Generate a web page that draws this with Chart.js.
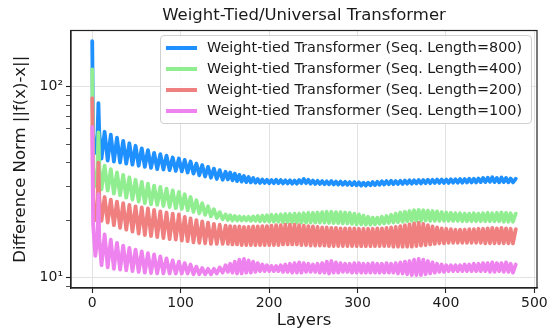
<!DOCTYPE html>
<html><head><meta charset="utf-8">
<script src="https://cdn.jsdelivr.net/npm/chart.js@4.4.1/dist/chart.umd.min.js"></script>
<style>
html,body{margin:0;padding:0;background:#fff;}
#wrap{position:relative;width:548px;height:331px;}
#legend{position:absolute;left:160px;top:35px;width:372px;height:89px;border:1px solid #d0d0d0;border-radius:4px;background:rgba(255,255,255,0.85);box-sizing:border-box;font-family:"DejaVu Sans";font-size:14.4px;color:#1a1a1a;}
.row{position:absolute;left:0;height:21px;line-height:21px;white-space:nowrap;}
.sw{position:absolute;left:5px;top:8.5px;width:31px;height:4px;}
.lbl{position:absolute;left:46px;top:0;}
</style></head><body>
<div id="wrap"><canvas id="c" width="548" height="331"></canvas><div id="legend"></div></div>
<script>
// ---- layer positions (x) of the drawn extremes ----
const layersStart = [0, 1, 3.5, 6, 7, 8, 10.5, 14, 17.5, 21, 24.5, 28, 31.5, 35, 38.5, 42, 45.5, 49, 52.5, 56, 59.5, 63, 66.5, 70, 73.5, 77, 80.5, 84, 87.5, 91, 94.5, 98];
const layersMid = [101.3, 104.6, 107.9, 111.2, 114.5, 117.8, 121.1, 124.4, 127.7, 131, 134.3, 137.6, 140.9, 144.2, 147.5, 150.8];
const layersEnd = [153.4, 156, 158.6, 161.2, 163.8, 166.4, 169, 171.6, 174.2, 176.8,
  179.4, 182, 184.6, 187.2, 189.8, 192.4, 195, 197.6, 200.2, 202.8,
  205.4, 208, 210.6, 213.2, 215.8, 218.4, 221, 223.6, 226.2, 228.8,
  231.4, 234, 236.6, 239.2, 241.8, 244.4, 247, 249.6, 252.2, 254.8,
  257.4, 260, 262.6, 265.2, 267.8, 270.4, 273, 275.6, 278.2, 280.8,
  283.4, 286, 288.6, 291.2, 293.8, 296.4, 299, 301.6, 304.2, 306.8,
  309.4, 312, 314.6, 317.2, 319.8, 322.4, 325, 327.6, 330.2, 332.8,
  335.4, 338, 340.6, 343.2, 345.8, 348.4, 351, 353.6, 356.2, 358.8,
  361.4, 364, 366.6, 369.2, 371.8, 374.4, 377, 379.6, 382.2, 384.8,
  387.4, 390, 392.6, 395.2, 397.8, 400.4, 403, 405.6, 408.2, 410.8,
  413.4, 416, 418.6, 421.2, 423.8, 426.4, 429, 431.6, 434.2, 436.8,
  439.4, 442, 444.6, 447.2, 449.8, 452.4, 455, 457.6, 460.2, 462.8,
  465.4, 468, 470.6, 473.2, 475.8, 479];

// ---- Seq. Length = 800 ----
const seq800Start = [173, 52, 45, 57, 82, 57, 42, 58, 41, 56, 40.5, 54, 40, 52, 39.5, 50.5, 39, 49, 38.5, 47.5, 38, 46.5, 37.5, 45, 37, 44.3, 36.8, 43.5, 36.5, 42.5, 36.2, 42];
const seq800Mid = [36, 41.3, 35.5, 40.5, 35, 39.5, 34.3, 38.8, 33.8, 38, 33.3, 37.2, 32.8, 36.5, 32.5, 35.8];
const seq800End = [32.6,35.5, 32.3,35, 32,34.5, 31.8,34, 31.6,33.6, 31.5,33.2,
  31.4,32.8, 31.3,32.6, 31.3,32.5, 31.2,32.4, 31.2,32.5, 31.2,32.4, 31.1,32.3,
  31.1,32.3, 31,32.2, 31,32.4, 31.2,32.8, 31.2,32.5, 31,32.2, 30.9,32.1,
  30.9,32, 30.8,31.9, 30.8,32, 30.7,31.8, 30.7,31.8, 30.6,31.7, 30.6,31.6, 30.5,31.6, 30.4,31.5, 30.3,31.4,
  30.3,31.4, 30.4,31.6, 30.5,31.7, 30.6,31.9, 30.7,32, 30.8,32.1, 30.8,32, 30.9,32.1, 30.9,32.2, 31,32.3,
  31,32.3, 31.1,32.4, 31.1,32.4, 31.2,32.5, 31.2,32.5, 31.3,32.6, 31.3,32.6, 31.3,32.6, 31.3,32.7, 31.4,32.7,
  31.4,32.8, 31.4,32.8, 31.5,32.9, 31.5,32.9, 31.5,33, 31.6,33.2, 31.6,33.3, 31.7,33.5, 31.6,33.2, 31.5,33.4, 31.6,33.2, 31.5,33, 31.5,32.9];

// ---- Seq. Length = 400 ----
const seq400Start = [123, 36, 30, 38, 57.5, 38, 29, 38.5, 28.5, 37, 27.5, 35.5, 27, 34.5, 26.2, 33.5, 25.6, 32.5, 25, 31.7, 24.5, 31, 24.2, 30.3, 24, 29.8, 23.7, 29.2, 23.4, 28.6, 23.1, 28.1];
const seq400Mid = [22.9, 27.3, 22.5, 26.4, 22.1, 25.4, 21.7, 24.5, 21.3, 23.6, 20.9, 22.8, 20.5, 22.0, 20.2, 21.4];
const seq400End = [20.0,21.2, 19.9,21.0, 19.9,20.9, 19.9,20.8, 19.9,20.8, 19.8,20.9,
  19.8,21.0, 19.7,21.1, 19.7,21.2, 19.6,21.3, 19.6,21.3, 19.6,21.4, 19.5,21.5,
  19.5,21.5, 19.5,21.6, 19.4,21.6, 19.4,21.7, 19.4,21.8, 19.4,21.8, 19.4,21.9,
  19.4,22.0, 19.4,22.1, 19.3,22.1, 19.3,22.0, 19.3,22.0, 19.2,21.9, 19.2,21.8, 19.1,21.6, 19.0,21.4, 19.0,21.1,
  18.9,20.8, 18.9,20.6, 19.0,20.6, 19.1,20.8, 19.2,21.0, 19.3,21.3, 19.4,21.6, 19.5,21.9, 19.6,22.1, 19.7,22.3,
  19.8,22.5, 19.8,22.6, 19.8,22.5, 19.9,22.4, 19.8,22.3, 19.8,22.2, 19.8,22.0, 19.8,21.9, 19.8,21.8, 19.8,21.7,
  19.8,21.7, 19.7,21.6, 19.7,21.6, 19.7,21.7, 19.7,21.6, 19.7,21.7, 19.7,21.8, 19.7,21.7, 19.7,21.8, 19.7,21.9, 19.6,21.8, 19.6,21.7, 19.6,21.6];

// ---- Seq. Length = 200 ----
const seq200Start = [87, 24, 20, 26, 40, 26, 19.8, 26.4, 19.4, 25.6, 18.8, 25, 18.2, 24.5, 17.8, 24, 17.4, 23.6, 17, 23.3, 16.7, 23, 16.5, 22.6, 16.3, 22.2, 16.1, 21.9, 15.9, 21.6, 15.8, 21.4];
const seq200Mid = [15.6, 20.8, 15.5, 20.4, 15.3, 20.0, 15.2, 19.7, 15.1, 19.4, 15.0, 19.1, 15.0, 18.9, 15.0, 18.7];
const seq200End = [15.0,18.6, 14.9,18.5, 14.9,18.5, 14.8,18.4, 14.8,18.4, 14.8,18.5,
  14.8,18.5, 14.8,18.6, 14.8,18.6, 14.8,18.7, 14.8,18.8, 14.8,18.8, 14.9,18.9,
  14.9,18.9, 14.9,18.9, 14.9,18.8, 14.8,18.7, 14.8,18.6, 14.7,18.5, 14.7,18.4,
  14.7,18.3, 14.7,18.3, 14.6,18.2, 14.6,18.2, 14.6,18.1, 14.6,18.1, 14.6,18.1, 14.6,18.1, 14.6,18.0, 14.6,18.0,
  14.6,18.0, 14.6,18.0, 14.6,18.1, 14.6,18.1, 14.6,18.2, 14.6,18.3, 14.5,18.4, 14.5,18.6, 14.5,18.8, 14.5,19.0,
  14.5,19.2, 14.6,19.3, 14.7,19.1, 14.8,18.8, 14.9,18.5, 15.0,18.3, 15.1,18.1, 15.1,18.0, 15.2,17.9, 15.2,17.8,
  15.2,17.8, 15.2,17.8, 15.2,17.9, 15.2,17.9, 15.2,18.0, 15.2,18.0, 15.1,18.1, 15.1,18.2, 15.1,18.1, 15.1,18.2, 15.1,18.1, 15.1,18.0, 15.1,17.9];

// ---- Seq. Length = 100 ----
const seq100Start = [61.5, 19, 13, 16, 27.3, 16, 11.6, 16.8, 11.3, 15.8, 11.1, 15.2, 11, 14.7, 10.9, 14.3, 10.8, 14, 10.7, 13.7, 10.6, 13.4, 10.55, 13.2, 10.5, 12.9, 10.5, 12.6, 10.5, 12.3, 10.5, 12.1];
const seq100Mid = [10.5, 11.9, 10.5, 11.7, 10.4, 11.4, 10.4, 11.2, 10.4, 11.1, 10.4, 11.1, 10.5, 11.3, 10.6, 11.6];
const seq100End = [10.7,11.8, 10.6,12.1, 10.5,12.4, 10.5,12.5, 10.6,12.3, 10.6,12.1,
  10.7,11.9, 10.8,11.7, 10.8,11.6, 10.8,11.5, 10.8,11.5, 10.8,11.6, 10.7,11.7,
  10.7,11.8, 10.6,11.9, 10.6,12.0, 10.6,11.9, 10.7,11.8, 10.7,11.7, 10.7,11.8,
  10.6,11.9, 10.6,12.1, 10.5,12.2, 10.6,12.0, 10.6,11.9, 10.7,11.8, 10.7,11.8, 10.6,11.9, 10.6,11.9, 10.6,11.8,
  10.6,11.8, 10.6,11.9, 10.6,11.8, 10.6,11.8, 10.6,11.9, 10.6,11.8, 10.6,11.9, 10.5,12.0, 10.5,12.1, 10.4,12.2,
  10.3,12.4, 10.3,12.5, 10.3,12.4, 10.4,12.2, 10.5,12.0, 10.6,11.8, 10.7,11.7, 10.7,11.6, 10.8,11.6, 10.8,11.6,
  10.8,11.6, 10.8,11.7, 10.8,11.7, 10.8,11.8, 10.8,11.8, 10.8,11.9, 10.8,11.9, 10.7,12.0, 10.7,11.9, 10.8,11.9, 10.7,12.0, 10.7,11.8, 10.6,11.7];

const seriesLabels = ['Weight-tied Transformer (Seq. Length=800)', 'Weight-tied Transformer (Seq. Length=400)',
  'Weight-tied Transformer (Seq. Length=200)', 'Weight-tied Transformer (Seq. Length=100)'];
const seriesColors = ['#1E90FF', '#90EE90', '#F08080', '#EE82EE'];
const xTickValues = [0, 100, 200, 300, 400, 500];
const yTickValues = [9, 10, 20, 30, 40, 50, 60, 70, 80, 90, 100];

const layers = layersStart.concat(layersMid, layersEnd);
const seriesValues = [
  seq800Start.concat(seq800Mid, seq800End),
  seq400Start.concat(seq400Mid, seq400End),
  seq200Start.concat(seq200Mid, seq200End),
  seq100Start.concat(seq100Mid, seq100End)
];

const FONT = 'DejaVu Sans';
const TXT = '#1a1a1a';
Chart.defaults.font.family = FONT;
Chart.defaults.color = TXT;

const datasets = seriesValues.map((vals, i) => ({
  label: seriesLabels[i],
  data: layers.map((x, j) => ({x: x, y: vals[j]})),
  borderColor: seriesColors[i],
  backgroundColor: seriesColors[i],
  borderWidth: 3.8,
  pointRadius: 0,
  tension: 0,
  fill: false,
  borderJoinStyle: 'round',
  borderCapStyle: 'round',
  order: 4 - i
}));

const framePlugin = {
  id: 'frame',
  afterDatasetsDraw(chart) {
    const {ctx, chartArea: a} = chart;
    ctx.save();
    ctx.strokeStyle = '#222';
    ctx.lineWidth = 1.2;
    ctx.strokeRect(a.left, a.top, a.right - a.left, a.bottom - a.top);
    ctx.restore();
  }
};

const isMajor = v => v === 10 || v === 100;

const chart = new Chart(document.getElementById('c'), {
  type: 'line',
  data: { datasets: datasets },
  plugins: [framePlugin],
  options: {
    responsive: false,
    animation: false,
    devicePixelRatio: 1,
    layout: { padding: { left: 0, right: 11, top: 0, bottom: 0 } },
    plugins: {
      legend: { display: false },
      tooltip: { enabled: false },
      title: {
        display: true,
        fullSize: false,
        text: 'Weight-Tied/Universal Transformer',
        color: TXT,
        font: { size: 16.5, weight: 'normal', family: FONT },
        padding: { top: 6, bottom: 4.7 }
      }
    },
    scales: {
      x: {
        type: 'linear',
        min: -24,
        max: 503,
        bounds: 'data',
        afterBuildTicks: s => { s.ticks = xTickValues.map(v => ({ value: v })); },
        afterFit: s => { s.height = 43; s.paddingLeft = 0; s.paddingRight = 0; },
        grid: { color: '#e2e2e2', lineWidth: 1, tickLength: 5, tickColor: '#222', tickWidth: 1.1 },
        border: { color: '#222', width: 1.2 },
        ticks: { font: { size: 14 }, color: TXT, padding: 2, maxRotation: 0, autoSkip: false },
        title: { display: true, text: 'Layers', color: TXT, font: { size: 16.5 }, padding: { top: 0, bottom: 0 } }
      },
      y: {
        type: 'logarithmic',
        min: 8.81,
        max: 196.8,
        bounds: 'data',
        afterBuildTicks: s => { s.ticks = yTickValues.map(v => ({ value: v, major: isMajor(v) })); },
        afterFit: s => { s.width = 71; s.paddingTop = 0; s.paddingBottom = 0; },
        grid: {
          color: c => (c.tick && isMajor(c.tick.value)) ? '#e2e2e2' : 'rgba(0,0,0,0)',
          lineWidth: 1,
          tickLength: 5,
          tickColor: '#222',
          tickWidth: c => (c.tick && isMajor(c.tick.value)) ? 1.1 : 0.8
        },
        border: { color: '#222', width: 1.2 },
        ticks: {
          autoSkip: false,
          font: { size: 14 },
          color: TXT,
          padding: 3,
          callback: v => v === 10 ? '10\u00B9' : (v === 100 ? '10\u00B2' : '')
        },
        title: { display: true, text: 'Difference Norm ||f(x)-x||', color: TXT, font: { size: 16.5 }, padding: { top: 11, bottom: 0 } }
      }
    }
  }
});

// HTML legend built from the chart's datasets
const legend = document.getElementById('legend');
chart.data.datasets.forEach((ds, i) => {
  const row = document.createElement('div');
  row.className = 'row';
  row.style.top = (1 + 21 * i) + 'px';
  const sw = document.createElement('span');
  sw.className = 'sw';
  sw.style.background = ds.borderColor;
  const lbl = document.createElement('span');
  lbl.className = 'lbl';
  lbl.textContent = ds.label;
  row.appendChild(sw);
  row.appendChild(lbl);
  legend.appendChild(row);
});
</script></body></html>
